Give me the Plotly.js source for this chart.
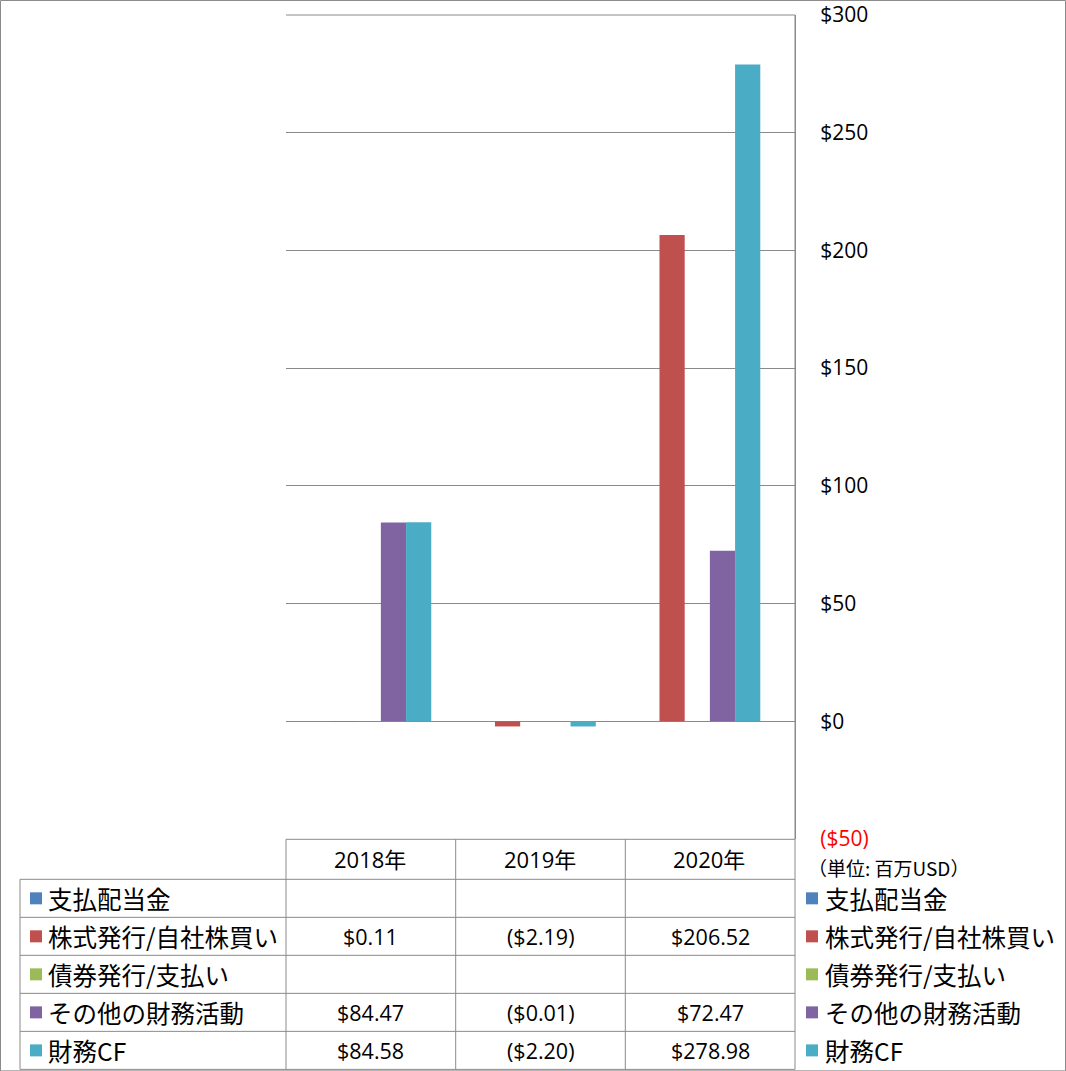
<!DOCTYPE html>
<html>
<head>
<meta charset="utf-8">
<script src="https://cdn.plot.ly/plotly-3.0.1.min.js"></script>
<style>
html,body{margin:0;padding:0;background:#fff;}
#chart{width:1066px;height:1071px;}
</style>
</head>
<body>
<div id="chart"></div>
<script>
// ---- data ----
const years = ['2018年', '2019年', '2020年'];
const seriesNames = ['支払配当金', '株式発行/自社株買い', '債券発行/支払い', 'その他の財務活動', '財務CF'];
const dividendsPaid = [null, null, null];
const stockIssuance = [0.11, -2.19, 206.52];
const debtIssuance = [null, null, null];
const otherFinancing = [84.47, -0.01, 72.47];
const financingCF = [84.58, -2.20, 278.98];
const yTickVals = [-50, 0, 50, 100, 150, 200, 250, 300];
const yTickText = ['<span style="color:#ff0000">($50)</span>', '$0', '$50', '$100', '$150', '$200', '$250', '$300'];
const unitLabel = '（単位: 百万USD）';

// ---- styles ----
const seriesValues = [dividendsPaid, stockIssuance, debtIssuance, otherFinancing, financingCF];
const seriesColors = ['#4F81BD', '#C0504D', '#9BBB59', '#8064A2', '#4BACC6'];
const W = 1066, H = 1071;
const L = 286, R = 795, T = 15, B = 838.7;
const px = x => (x - L) / (R - L);
const py = y => (B - y) / (B - T);
const lineCol = '#8a8a8a';
const latin = '"Open Sans", "Noto Sans CJK JP", sans-serif';
const cjk = '"Noto Sans CJK JP", sans-serif';

function fmt(v) {
  if (v === null || v === undefined) return '';
  return v < 0 ? '($' + Math.abs(v).toFixed(2) + ')' : '$' + v.toFixed(2);
}

const traces = seriesNames.map((name, i) => ({
  type: 'bar',
  name: name,
  x: years,
  y: seriesValues[i].map(v => v === null ? 0 : v),
  marker: {color: seriesColors[i], line: {width: 0}},
  hoverinfo: 'x+y+name'
}));

// ---- table geometry ----
const colEdges = [286, 455.7, 625.3, 795];
const rowEdges = [879, 917, 955, 993, 1031, 1069];
const headerTop = 839;
const leftEdge = 20;

const shapes = [];
const ln = (x0, y0, x1, y1) => shapes.push({
  type: 'line', xref: 'paper', yref: 'paper',
  x0: px(x0), y0: py(y0), x1: px(x1), y1: py(y1),
  line: {color: lineCol, width: 1}
});
// outer border
shapes.push({type: 'rect', xref: 'paper', yref: 'paper',
  x0: px(0.5), y0: py(0.5), x1: px(1065.5), y1: py(1070.5),
  line: {color: lineCol, width: 1}});
// top gridline (edge of range)
ln(L, T, R, T);
// header row
ln(colEdges[0], headerTop, colEdges[3], headerTop);
rowEdges.forEach(y => ln(leftEdge, y, colEdges[3], y));
ln(leftEdge, rowEdges[0], leftEdge, rowEdges[5]);
colEdges.forEach((x, i) => ln(x, i === 3 ? T : headerTop, x, rowEdges[5]));

const annotations = [];
const colCenters = [0, 1, 2].map(i => (colEdges[i] + colEdges[i + 1]) / 2);
years.forEach((yr, i) => annotations.push({
  xref: 'paper', yref: 'paper', x: px(colCenters[i] - 1), y: py(859),
  text: yr, showarrow: false, xanchor: 'center', yanchor: 'middle',
  font: {family: latin, size: 22, color: '#000'}
}));
seriesNames.forEach((name, r) => {
  const yc = (rowEdges[r] + rowEdges[r + 1]) / 2;
  // left legend key
  shapes.push({type: 'rect', xref: 'paper', yref: 'paper',
    x0: px(30), x1: px(42), y0: py(yc - 6), y1: py(yc + 6),
    fillcolor: seriesColors[r], line: {width: 0}});
  annotations.push({xref: 'paper', yref: 'paper', x: px(46), y: py(yc),
    text: name, showarrow: false, xanchor: 'left', yanchor: 'middle',
    font: {family: cjk, size: 24.5, color: '#000'}});
  // right legend key
  shapes.push({type: 'rect', xref: 'paper', yref: 'paper',
    x0: px(806), x1: px(818), y0: py(yc - 6), y1: py(yc + 6),
    fillcolor: seriesColors[r], line: {width: 0}});
  annotations.push({xref: 'paper', yref: 'paper', x: px(823), y: py(yc),
    text: name, showarrow: false, xanchor: 'left', yanchor: 'middle',
    font: {family: cjk, size: 24.5, color: '#000'}});
  // values
  seriesValues[r].forEach((v, c) => {
    const t = fmt(v);
    if (!t) return;
    annotations.push({xref: 'paper', yref: 'paper', x: px(colCenters[c]), y: py(yc),
      text: t, showarrow: false, xanchor: 'center', yanchor: 'middle',
      font: {family: latin, size: 21.5, color: '#000'}});
  });
});
annotations.push({xref: 'paper', yref: 'paper', x: px(806), y: py(867),
  text: unitLabel, showarrow: false, xanchor: 'left', yanchor: 'middle',
  font: {family: cjk, size: 19, color: '#000'}});

const layout = {
  width: W, height: H,
  margin: {l: L, r: W - R, t: T, b: H - B, pad: 0},
  paper_bgcolor: '#ffffff', plot_bgcolor: '#ffffff',
  showlegend: false,
  barmode: 'group', bargap: 0.234, bargroupgap: 0,
  xaxis: {type: 'category', range: [-0.5, 2.594], showgrid: false, zeroline: false,
    showticklabels: false, showline: false, ticks: '', fixedrange: true},
  yaxis: {side: 'right', range: [-50, 300], tickvals: yTickVals, ticktext: yTickText,
    showgrid: true, gridcolor: '#8a8a8a', gridwidth: 1,
    zeroline: true, zerolinecolor: '#8a8a8a', zerolinewidth: 1.5,
    showline: true, linecolor: lineCol, linewidth: 1, ticks: '',
    ticklabelstandoff: 20,
    tickfont: {family: latin, size: 21, color: '#000'}, fixedrange: true},
  shapes: shapes,
  annotations: annotations
};

Plotly.newPlot('chart', traces, layout, {displayModeBar: false, staticPlot: true});
</script>
</body>
</html>
